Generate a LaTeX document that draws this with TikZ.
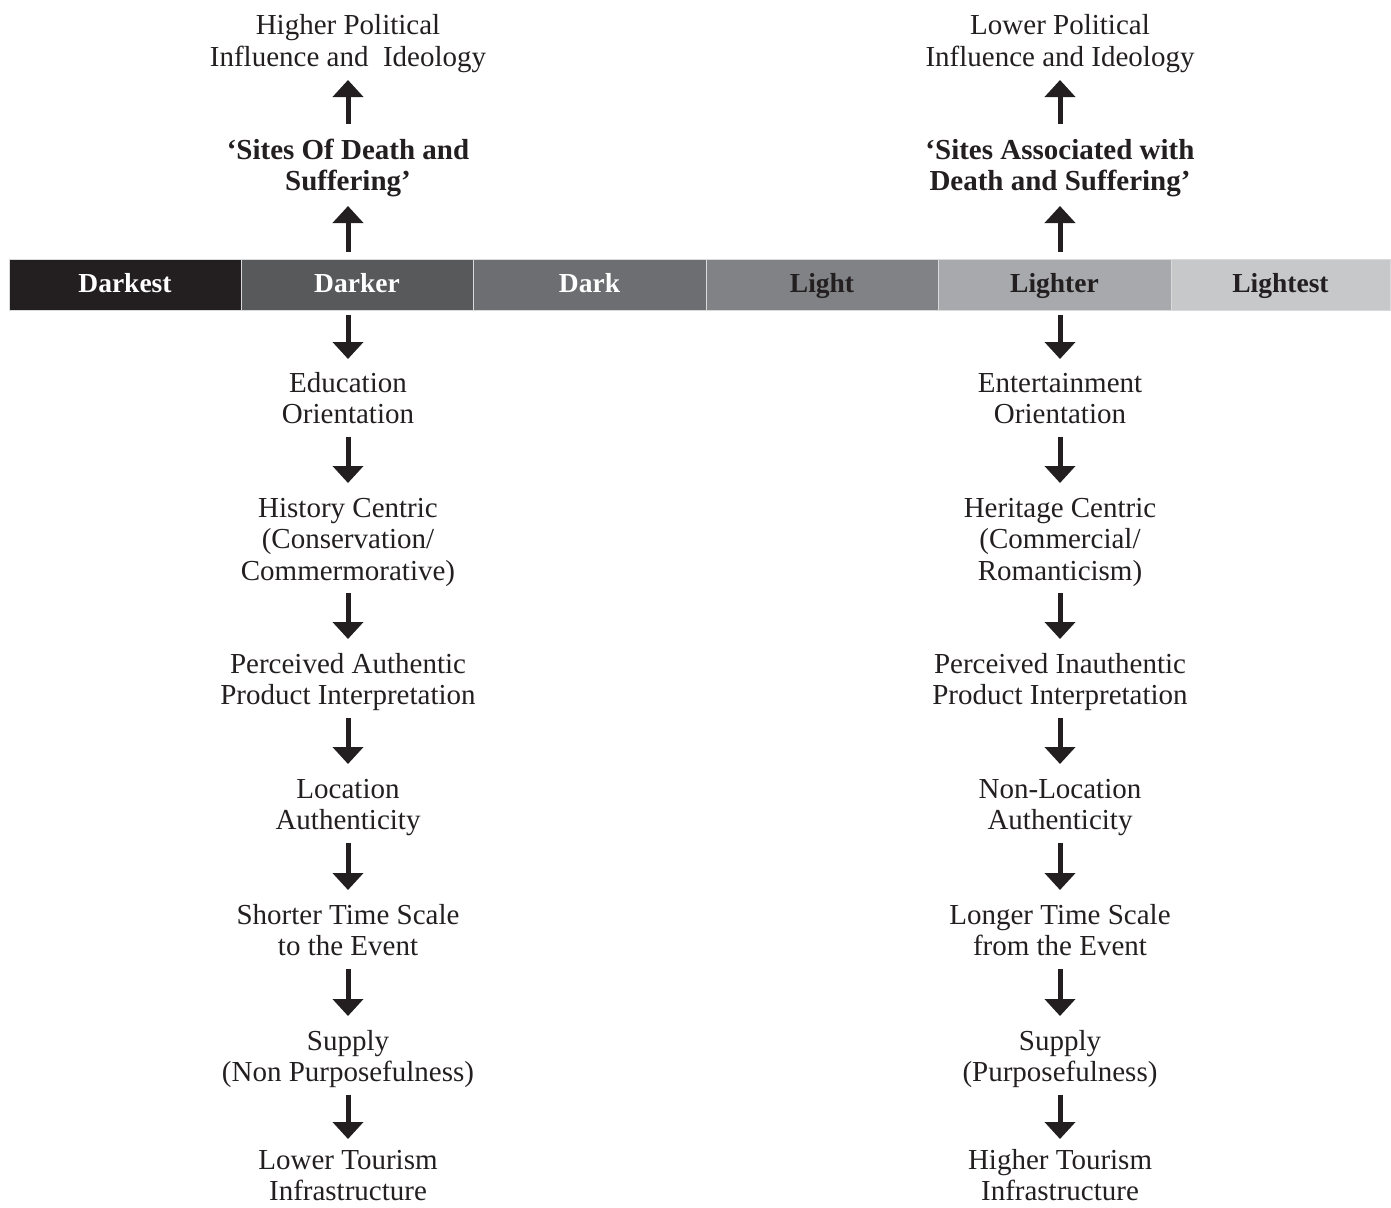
\documentclass[tikz,border=0pt]{standalone}
\usepackage{fontspec}
\setmainfont{Liberation Serif}
\usetikzlibrary{arrows.meta}
\definecolor{ink}{HTML}{231F20}
\definecolor{cA}{HTML}{231F20}
\definecolor{cB}{HTML}{58595B}
\definecolor{cC}{HTML}{6D6E71}
\definecolor{cD}{HTML}{808285}
\definecolor{cE}{HTML}{A7A9AC}
\definecolor{cF}{HTML}{C7C8CA}
\definecolor{sep}{HTML}{D9DADB}
\newcommand{\ls}{\rule[-7pt]{0pt}{28pt}}
\newcommand{\lz}{\rule{0pt}{21pt}}
\begin{document}
\begin{tikzpicture}[x=1pt,y=-1pt,
  txt/.style={anchor=north,align=center,inner sep=0pt,outer sep=0pt,text=ink,
    font=\fontsize{29}{31.5}\selectfont},
  btxt/.style={txt,font=\fontsize{29}{31.5}\selectfont\bfseries},
  barseg/.style={draw=sep,line width=1pt,minimum height=51pt,inner sep=0pt,outer sep=0pt,
    text height=19pt,text depth=4pt,
    font=\fontsize{27.5}{30}\selectfont\bfseries},
  arr/.style={draw=ink,line width=5pt,-{Triangle[width=30pt,length=17pt]}},
  dn/.style={arr,shorten <=6pt,shorten >=13pt}]
\useasboundingbox (0,0) rectangle (1391,1207);

% bar
\node[barseg,fill=cA,text=white,minimum width=232pt] (b1) at (125,285) {Darkest};
\node[barseg,fill=cB,text=white,minimum width=232pt] (b2) at (357,285) {Darker};
\node[barseg,fill=cC,text=white,minimum width=233pt] (b3) at (589.5,285) {Dark};
\node[barseg,fill=cD,text=ink,minimum width=232pt] (b4) at (822,285) {Light};
\node[barseg,fill=cE,text=ink,minimum width=233pt] (b5) at (1054.5,285) {Lighter};
\node[barseg,fill=cF,text=ink,minimum width=219pt] (b6) at (1280.5,285) {Lightest};

% left column
\node[txt] (lhigh) at (348,14) {\ls Higher Political\\\ls Influence and \ Ideology};
\node[btxt] (lsites) at (348,138) {\ls ‘Sites Of Death and\\\ls Suffering’};
\node[txt] (ledu) at (348,371) {\ls Education\\\ls Orientation};
\node[txt] (lhist) at (348,496) {\ls History Centric\\\ls (Conservation/\\\ls Commermorative)};
\node[txt] (lperc) at (348,652) {\ls Perceived Authentic\\\ls Product Interpretation};
\node[txt] (lloc) at (348,777) {\ls Location\\\ls Authenticity};
\node[txt] (lshort) at (348,903) {\ls Shorter Time Scale\\\ls to the Event};
\node[txt] (lsup) at (348,1029) {\ls Supply\\\ls (Non Purposefulness)};
\node[txt] (llow) at (348,1148) {\ls Lower Tourism\\\lz Infrastructure};

% right column
\node[txt] (rhigh) at (1060,14) {\ls Lower Political\\\ls Influence and Ideology};
\node[btxt] (rsites) at (1060,138) {\ls ‘Sites Associated with\\\ls Death and Suffering’};
\node[txt] (redu) at (1060,371) {\ls Entertainment\\\ls Orientation};
\node[txt] (rhist) at (1060,496) {\ls Heritage Centric\\\ls (Commercial/\\\ls Romanticism)};
\node[txt] (rperc) at (1060,652) {\ls Perceived Inauthentic\\\ls Product Interpretation};
\node[txt] (rloc) at (1060,777) {\ls Non-Location\\\ls Authenticity};
\node[txt] (rshort) at (1060,903) {\ls Longer Time Scale\\\ls from the Event};
\node[txt] (rsup) at (1060,1029) {\ls Supply\\\ls (Purposefulness)};
\node[txt] (rlow) at (1060,1148) {\ls Higher Tourism\\\lz Infrastructure};

% arrows left
\draw[arr,shorten <=8pt,shorten >=8.5pt] (lsites.south |- b2.north) -- (lsites.south);
\draw[arr,shorten <=14pt,shorten >=6.5pt] (lsites.north) -- (lhigh.south);
\draw[arr,shorten <=4pt,shorten >=12pt] (ledu.north |- b2.south) -- (ledu.north);
\draw[dn] (ledu.south) -- (lhist.north);
\draw[dn] (lhist.south) -- (lperc.north);
\draw[dn] (lperc.south) -- (lloc.north);
\draw[dn] (lloc.south) -- (lshort.north);
\draw[dn] (lshort.south) -- (lsup.north);
\draw[arr,shorten <=6pt,shorten >=9pt] (lsup.south) -- (llow.north);

% arrows right
\draw[arr,shorten <=8pt,shorten >=8.5pt] (rsites.south |- b5.north) -- (rsites.south);
\draw[arr,shorten <=14pt,shorten >=6.5pt] (rsites.north) -- (rhigh.south);
\draw[arr,shorten <=4pt,shorten >=12pt] (redu.north |- b5.south) -- (redu.north);
\draw[dn] (redu.south) -- (rhist.north);
\draw[dn] (rhist.south) -- (rperc.north);
\draw[dn] (rperc.south) -- (rloc.north);
\draw[dn] (rloc.south) -- (rshort.north);
\draw[dn] (rshort.south) -- (rsup.north);
\draw[arr,shorten <=6pt,shorten >=9pt] (rsup.south) -- (rlow.north);
\end{tikzpicture}
\end{document}
